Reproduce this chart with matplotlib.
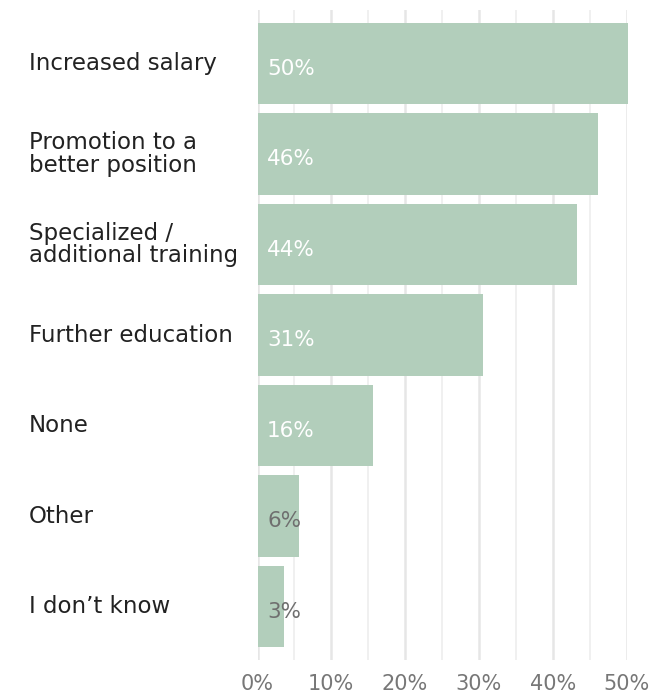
import matplotlib
matplotlib.use("Agg")
import matplotlib.pyplot as plt
import matplotlib.transforms as mtransforms

categories = ["Increased salary", "Promotion to a\nbetter position", "Specialized /\nadditional training",
              "Further education", "None", "Other", "I don\u2019t know"]
values = [50.2, 46.2, 43.3, 30.6, 15.6, 5.6, 3.6]
value_labels = ["50%", "46%", "44%", "31%", "16%", "6%", "3%"]
xticks = [0, 10, 20, 30, 40, 50]
xtick_labels = ["0%", "10%", "20%", "30%", "40%", "50%"]

plt.rcParams['font.family'] = ['DejaVu Sans']

W, H = 657, 697
fig = plt.figure(figsize=(W / 100, H / 100), dpi=100)
left, right = 257.5 / W, 626.5 / W
top, bottom = 1 - 10 / H, 1 - 660 / H
ax = fig.add_axes([left, bottom, right - left, top - bottom])

bar_color = "#b2cebb"
ypos = list(range(len(categories)))
ax.barh(ypos, values, height=0.9, color=bar_color, zorder=3, clip_on=False)

ax.set_xlim(0, 50)
ax.set_ylim(6.59, -0.59)

for x in range(0, 51, 5):
    major = (x % 10 == 0)
    ax.axvline(x, color="#e6e6e6" if major else "#f0f0f0", lw=1.8 if major else 1.4, zorder=1)

for s in ax.spines.values():
    s.set_visible(False)
ax.set_yticks([])
ax.set_xticks(xticks)
ax.set_xticklabels(xtick_labels, fontsize=15, color="#777777")
ax.tick_params(axis="x", length=0, pad=10)

trans = mtransforms.blended_transform_factory(fig.transFigure, ax.transData)
for y, lab in zip(ypos, categories):
    ax.text(29 / W, y, lab, transform=trans, ha="left", va="center", fontsize=16.5,
            color="#222222", linespacing=0.98)

for y, v, lab in zip(ypos, values, value_labels):
    col = "white" if v > 10 else "#6f6f6f"
    ax.text(1.3, y + 0.06, lab, ha="left", va="center", fontsize=15.5, color=col, zorder=4)

fig.savefig("out.png", dpi=100)
